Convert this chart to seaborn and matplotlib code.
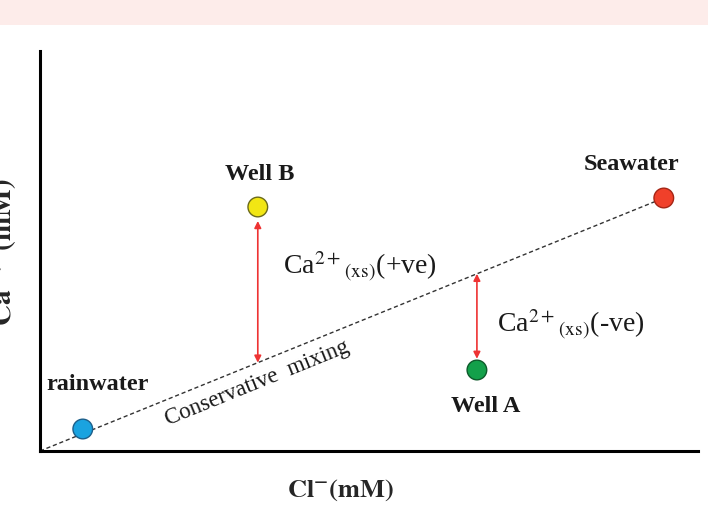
import matplotlib
matplotlib.use("Agg")
import matplotlib.pyplot as plt
import seaborn as sns
import pandas as pd

# End members and wells (arbitrary Cl / Ca units)
sources = ["rainwater", "Well B", "Well A", "Seawater"]
chloride = [6.5, 33.1, 66.4, 94.8]
calcium = [5.5, 61.0, 20.25, 63.25]
fill_colors = ["#1aa3e0", "#f2e614", "#13a04a", "#f0402a"]
edge_colors = ["#1d5f8a", "#6b6a1a", "#0d5a2a", "#a52515"]

# Where each label sits relative to its point (dx, dy in data units)
label_offsets = [(2.2, 11.3), (0.3, 8.3), (1.4, -9.0), (-4.9, 8.6)]

df = pd.DataFrame({"source": sources, "Cl": chloride, "Ca": calcium})

sns.set_style("white")
plt.rcParams["font.family"] = ["Liberation Serif", "DejaVu Serif"]
plt.rcParams["mathtext.fontset"] = "stix"

fig = plt.figure(figsize=(7.08, 5.06), dpi=100)
fig.patches.append(plt.Rectangle((0, 1 - 26 / 506), 1, 26 / 506,
                                 transform=fig.transFigure,
                                 facecolor="#fdecea", edgecolor="none"))

ax = fig.add_axes([40 / 708, 54 / 506, 658 / 708, 400 / 506])
ax.set_xlim(0, 100)
ax.set_ylim(0, 100)

# Conservative mixing line from origin through seawater
sea_x, sea_y = chloride[3], calcium[3]
ax.plot([0, sea_x], [0, sea_y], ls=(0, (3, 2)), color="#333333", lw=1.0, zorder=1)

sns.scatterplot(data=df, x="Cl", y="Ca", hue="source",
                palette=dict(zip(sources, fill_colors)), s=200,
                edgecolor=edge_colors, linewidth=1.0, legend=False,
                ax=ax, zorder=3)

for name, x, y, (dx, dy) in zip(sources, chloride, calcium, label_offsets):
    ax.text(x + dx, y + dy, name, ha="center", va="center",
            fontsize=17.5, fontweight="bold", color="#1a1a1a")

# Ca excess arrows between wells and the mixing line
def mix(x):
    return sea_y * x / sea_x

arrow_style = dict(arrowstyle="<|-|>", color="#ee3333", lw=1.2,
                   mutation_scale=10, shrinkA=0, shrinkB=0)
bx, by = chloride[1], calcium[1]
ax.annotate("", xy=(bx, by - 3.5), xytext=(bx, mix(bx)), arrowprops=arrow_style)
wx, wy = chloride[2], calcium[2]
ax.annotate("", xy=(wx, wy + 2.8), xytext=(wx, mix(wx)), arrowprops=arrow_style)

ax.text(36.9, 46.5, r"Ca$^{2+}{}_{\rm (xs)}$(+ve)", fontsize=20,
        ha="left", va="center", color="#1a1a1a")
ax.text(69.5, 32.0, r"Ca$^{2+}{}_{\rm (xs)}$(-ve)", fontsize=20,
        ha="left", va="center", color="#1a1a1a")

ax.text(33, 17.3, "Conservative  mixing", fontsize=16.5, rotation=22.1,
        rotation_mode="anchor", ha="center", va="center", color="#1a1a1a")

ax.set_xticks([])
ax.set_yticks([])
ax.set_xlabel("")
ax.set_ylabel("")
for side in ["top", "right"]:
    ax.spines[side].set_visible(False)
for side in ["left", "bottom"]:
    ax.spines[side].set_color("black")
    ax.spines[side].set_linewidth(2.2)

fig.text(341 / 708, 1 - 490 / 506, r"$\mathbf{Cl^{-}(mM)}$", fontsize=19,
         ha="center", va="center")
fig.text(2 / 708, 1 - 252 / 506, r"$\mathbf{Ca^{2+}\ (mM)}$", fontsize=21,
         rotation=90, ha="center", va="center")

fig.savefig("out.png", dpi=100)
